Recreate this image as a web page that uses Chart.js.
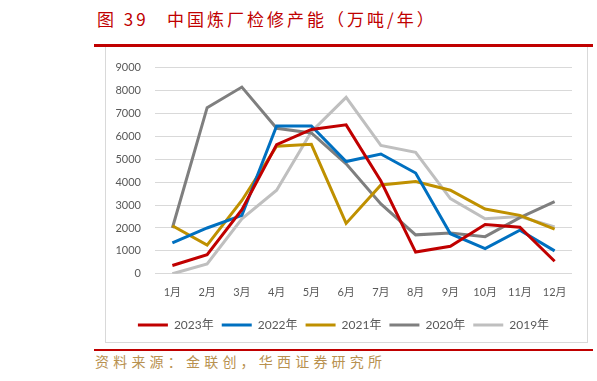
<!DOCTYPE html>
<html>
<head>
<meta charset="utf-8">
<script src="https://cdn.jsdelivr.net/npm/chart.js@4"></script>
<style>
  body { margin: 0; width: 597px; height: 381px; background: #fff; position: relative; overflow: hidden; font-family: "Noto Sans CJK SC", sans-serif; }
  .title { position: absolute; top: 7px; color: #c00000; font-size: 17px; letter-spacing: 3px; white-space: pre; line-height: 24px; }
  .rule-top { position: absolute; left: 94px; top: 44px; width: 499px; height: 3px; background: #c00000; }
  .box { position: absolute; left: 105px; top: 47px; width: 481px; height: 295px; border: 1px solid #d9d9d9; border-top: none; }
  .rule-bottom { position: absolute; left: 94px; top: 349px; width: 499px; height: 2px; background: #c00000; }
  .source { position: absolute; left: 95px; top: 351px; color: #b8914f; font-size: 14px; letter-spacing: 4.2px; line-height: 20px; white-space: pre; }
  #wrap { position: absolute; left: 106px; top: 47px; width: 480px; height: 295px; }
</style>
</head>
<body>
<div class="title" style="left:97px">图 39</div>
<div class="title" style="left:167px">中国炼厂检修产能（万吨/年）</div>
<div class="rule-top"></div>
<div class="box"></div>
<div id="wrap"><canvas id="chart"></canvas></div>
<div class="rule-bottom"></div>
<div class="source">资料来源：金联创，华西证券研究所</div>
<script>
// months and yearly maintenance capacity (万吨/年)
const months = ['1月', '2月', '3月', '4月', '5月', '6月', '7月', '8月', '9月', '10月', '11月', '12月'];
const y2023 = [360, 830, 2800, 5640, 6300, 6500, 4050, 950, 1200, 2150, 2030, 550];
const y2022 = [1350, 2000, 2550, 6450, 6450, 4900, 5230, 4400, 1750, 1100, 1900, 1000];
const y2021 = [2100, 1250, 3200, 5570, 5650, 2200, 3880, 4030, 3650, 2830, 2550, 1950];
const y2020 = [2000, 7250, 8150, 6350, 6150, 4800, 3050, 1700, 1780, 1620, 2450, 3150];
const y2019 = [0, 430, 2400, 3650, 6200, 7700, 5600, 5300, 3280, 2400, 2500, 2050];
const yTicks = [0, 1000, 2000, 3000, 4000, 5000, 6000, 7000, 8000, 9000];

const tickFont = { family: 'Lato, "Noto Sans CJK SC", sans-serif', size: 11 };

function line(label, data, color) {
    return {
        label: label,
        data: data,
        borderColor: color,
        backgroundColor: color,
        borderWidth: 3,
        pointRadius: 0,
        tension: 0,
        fill: false
    };
}

new Chart(document.getElementById('chart'), {
    type: 'line',
    data: {
        labels: months,
        datasets: [
            line('2023年', y2023, '#c00000'),
            line('2022年', y2022, '#0070c0'),
            line('2021年', y2021, '#bf9000'),
            line('2020年', y2020, '#7f7f7f'),
            line('2019年', y2019, '#bfbfbf')
        ]
    },
    options: {
        responsive: true,
        maintainAspectRatio: false,
        animation: false,
        layout: { padding: { left: 9, right: 14, top: 10, bottom: 1 } },
        plugins: {
            tooltip: { enabled: false },
            legend: {
                position: 'bottom',
                labels: {
                    color: '#595959',
                    font: { family: 'Lato, "Noto Sans CJK SC", sans-serif', size: 12 },
                    boxWidth: 30,
                    boxHeight: 3,
                    padding: 8,
                    generateLabels: chart => Chart.defaults.plugins.legend.labels.generateLabels(chart)
                        .map(l => Object.assign(l, { lineWidth: 0 }))
                }
            }
        },
        scales: {
            x: {
                offset: true,
                grid: { display: false, drawTicks: false },
                border: { display: false },
                ticks: { color: '#595959', font: tickFont, padding: 12, maxRotation: 0 }
            },
            y: {
                min: 0,
                max: 9000,
                afterBuildTicks: axis => { axis.ticks = yTicks.map(v => ({ value: v })); },
                afterFit: axis => { axis.width = 40; },
                grid: { color: '#d9d9d9', lineWidth: 1, drawTicks: false },
                border: { display: false },
                ticks: { color: '#595959', font: tickFont, padding: 14, callback: v => String(v) }
            }
        }
    }
});
</script>
</body>
</html>
